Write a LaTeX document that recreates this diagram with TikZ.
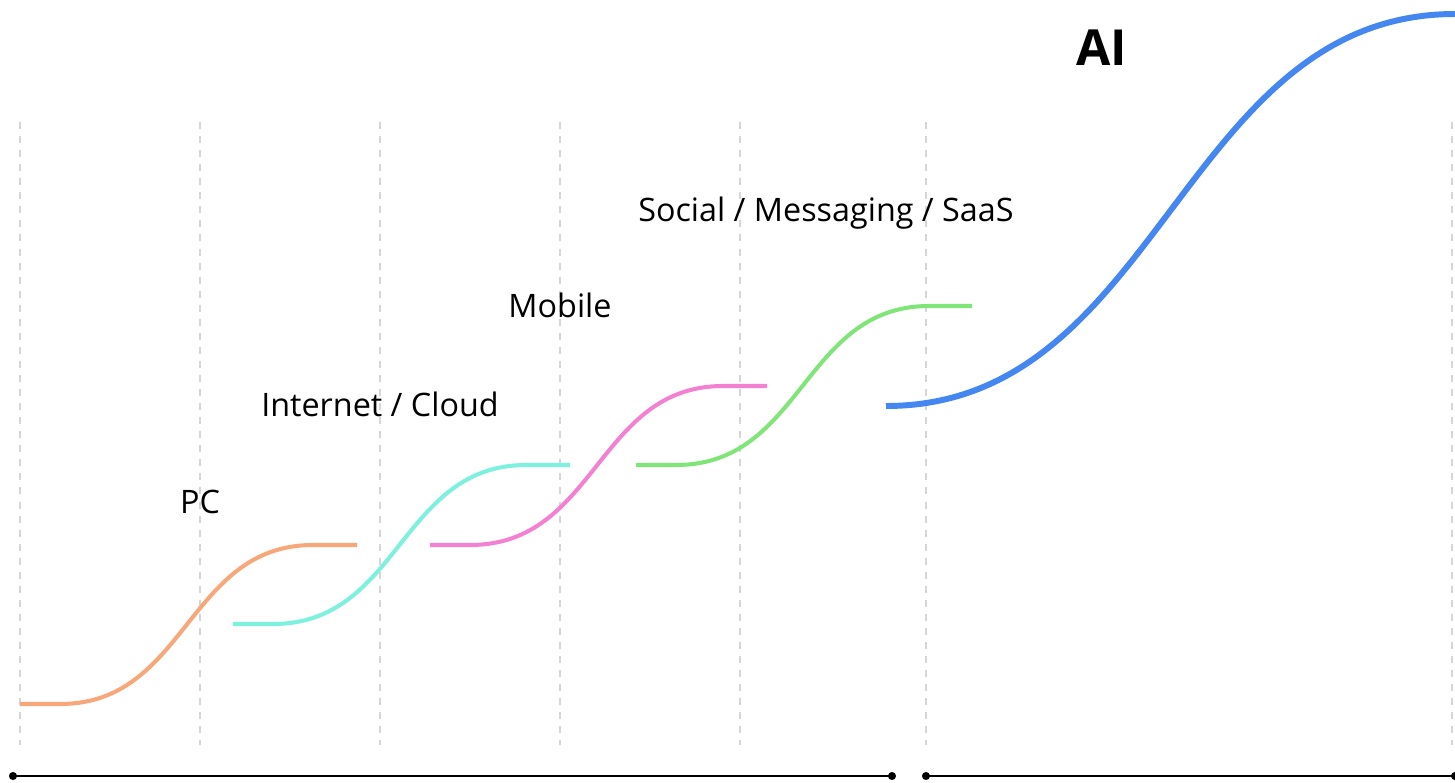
\documentclass[tikz,border=0pt]{standalone}
\usepackage{fontspec}
\setmainfont{Open Sans}
\usepackage{tikz}
\definecolor{gridgray}{RGB}{214,214,214}
\definecolor{pcorange}{RGB}{247,167,122}
\definecolor{cloudteal}{RGB}{125,240,222}
\definecolor{mobilepink}{RGB}{244,128,210}
\definecolor{socialgreen}{RGB}{128,229,120}
\definecolor{aiblue}{RGB}{69,135,240}
\tikzset{
	era line/.style={draw=gridgray,line width=1.1pt,dash pattern=on 4pt off 4pt},
	wave/.style={line width=2.3pt},
	big wave/.style={line width=3.4pt},
	era label/.style={anchor=base,inner sep=0pt,font=\fontsize{18.4}{22}\selectfont},
	span line/.style={line width=1.1pt}
}

\begin{document}
\begin{tikzpicture}[x=0.02cm,y=-0.02cm]
	\useasboundingbox (0,0) rectangle (1455,782);
	\draw[era line] (20,122) -- (20,745);
	\draw[era line] (200,122) -- (200,745);
	\draw[era line] (380,122) -- (380,745);
	\draw[era line] (560,122) -- (560,745);
	\draw[era line] (740,122) -- (740,745);
	\draw[era line] (926,122) -- (926,745);
	\draw[era line] (1452,122) -- (1452,745);
	\draw[wave,pcorange] (20,704) -- (60,704) .. controls (187,704) and (187,545) .. (313,545) -- (357,545);
	\draw[wave,cloudteal] (233,624) -- (273,624) .. controls (400,624) and (400,465) .. (526,465) -- (570,465);
	\draw[wave,mobilepink] (430,545) -- (470,545) .. controls (597,545) and (597,386) .. (723,386) -- (767,386);
	\draw[wave,socialgreen] (636,465) -- (676,465) .. controls (803,465) and (803,306) .. (929,306) -- (972,306);
	\draw[big wave,aiblue] (886,406) .. controls (1160,406) and (1182,14) .. (1455,14);
	\node[era label] (pc) at (200,513) {PC};
	\node[era label] (cloud) at (380,416) {Internet / Cloud};
	\node[era label] (mobile) at (560,317) {Mobile};
	\node[era label] (social) at (826,221) {Social / Messaging / SaaS};
	\node[era label,font=\fontsize{28.3}{32}\selectfont\bfseries] (ai) at (1102,65) {AI};
	\coordinate (past start) at (13,776);
	\coordinate (past end) at (892,776);
	\coordinate (ai start) at (926,776);
	\coordinate (ai end) at (1455,776);
	\draw[span line] (past start) -- (past end);
	\draw[span line] (ai start) -- (ai end);
	\fill (past start) circle (2.3pt);
	\fill (past end) circle (2.3pt);
	\fill (ai start) circle (2.3pt);
	\fill (ai end) circle (2.3pt);
\end{tikzpicture}
\end{document}
